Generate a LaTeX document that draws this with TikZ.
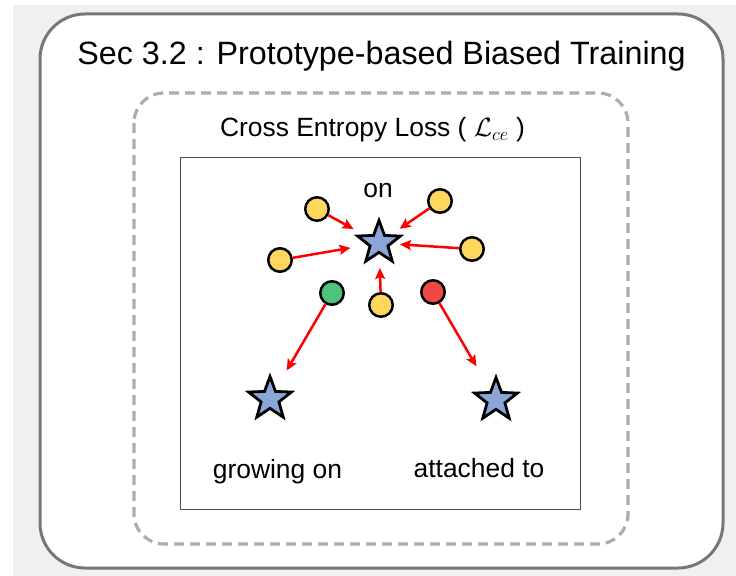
\RequirePackage{fix-cm}
\documentclass[tikz,border=0pt]{standalone}
\usepackage{amsmath}
\usepackage{fontspec}
\setmainfont{Liberation Sans}
\usepackage{tikz}
\usetikzlibrary{shapes.geometric,arrows.meta}
\definecolor{bgGray}{HTML}{F0F0F0}
\definecolor{frameGray}{HTML}{777777}
\definecolor{dashGray}{HTML}{B0ACAC}
\definecolor{protoBlue}{HTML}{8AA5D8}
\definecolor{featYellow}{HTML}{FED75F}
\definecolor{featGreen}{HTML}{4CC47C}
\definecolor{featRed}{HTML}{F04848}

\begin{document}
\begin{tikzpicture}
		[x=1bp,y=-1bp,
		proto/.style={star,star points=5,star point ratio=2.4,draw=black,line width=2.8bp,fill=protoBlue,minimum size=45bp,inner sep=0pt},
		feat/.style={circle,draw=black,line width=2.5bp,minimum size=23.5bp,inner sep=0pt},
		pull/.style={draw=red,line width=2.5bp,-{Stealth[length=11bp,width=10bp,inset=2bp]}},
		lbl/.style={font=\fontsize{26.5}{30}\selectfont,anchor=base,inner sep=0pt}]
		\useasboundingbox (0,0) rectangle (736,576);
		\fill[bgGray] (13,5) rectangle (736,576);
		\draw[frameGray,line width=3bp,fill=white,rounded corners=45bp] (40,14) rectangle (723,568);
		\draw[dashGray,line width=3.2bp,dash pattern=on 10bp off 6bp,rounded corners=30bp] (134,93) rectangle (628,544);
		\draw[black!70,line width=1bp] (180,158) rectangle (580,509);
		
		\node[font=\fontsize{32.4}{38}\selectfont,anchor=base,inner sep=0pt] (title) at (381.5,65) {Sec 3.2 : Prototype-based Biased Training};
		\node[lbl] (loss) at (372.5,137) {Cross Entropy Loss ( $\mathcal{L}_{ce}$ )};
		
		\node[proto] (pOn) at (379,243) {};
		\node[proto] (pGrow) at (270,399) {};
		\node[proto] (pAttach) at (496,400) {};
		\node[lbl] (lOn) at (378,198) {on};
		\node[lbl] (lGrow) at (277.5,478) {growing on};
		\node[lbl] (lAttach) at (479,477) {attached to};
		
		\node[feat,fill=featYellow] (y1) at (317,209) {};
		\node[feat,fill=featYellow] (y2) at (440,201) {};
		\node[feat,fill=featYellow] (y3) at (280,260) {};
		\node[feat,fill=featYellow] (y4) at (472,249) {};
		\node[feat,fill=featYellow] (y5) at (381,305) {};
		\node[feat,fill=featGreen] (gr) at (332,293) {};
		\node[feat,fill=featRed] (rd) at (433,292) {};
		
		\draw[pull,shorten >=29bp] (y1) -- (pOn.center);
		\draw[pull,shorten >=25bp] (y2) -- (pOn.center);
		\draw[pull,shorten >=29bp] (y3) -- (pOn.center);
		\draw[pull,shorten >=21bp] (y4) -- (pOn.center);
		\draw[pull,shorten >=25bp] (y5) -- (pOn.center);
		\draw[pull,shorten >=33bp] (gr) -- (pGrow.center);
		\draw[pull,shorten >=39bp] (rd) -- (pAttach.center);
		
\end{tikzpicture}
\end{document}
